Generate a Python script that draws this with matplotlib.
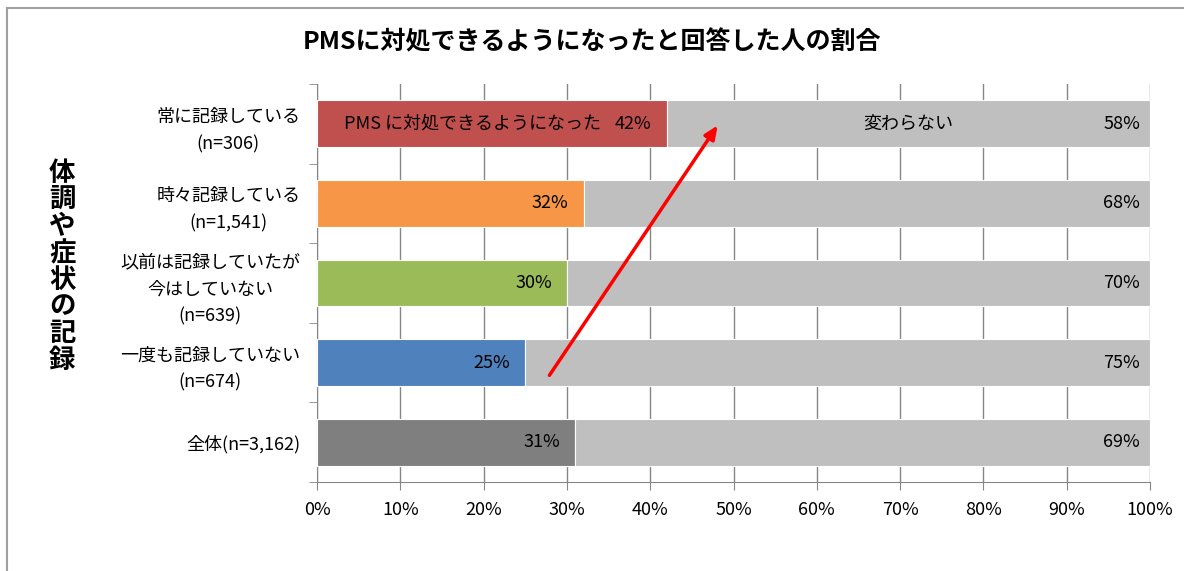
import matplotlib
matplotlib.use("Agg")
import matplotlib.pyplot as plt
from matplotlib.lines import Line2D

plt.rcParams['font.family'] = ['Noto Sans CJK JP', 'DejaVu Sans']

categories = ["常に記録している\n(n=306)",
              "時々記録している\n(n=1,541)",
              "以前は記録していたが\n今はしていない\n(n=639)",
              "一度も記録していない\n(n=674)",
              "全体(n=3,162)"]
coped = [42, 32, 30, 25, 31]
unchanged = [58, 68, 70, 75, 69]
colors = ["#C0504D", "#F79646", "#9BBB59", "#4F81BD", "#7F7F7F"]
rest_color = "#BFBFBF"
xticks = [0, 10, 20, 30, 40, 50, 60, 70, 80, 90, 100]

title = "PMSに対処できるようになったと回答した人の割合"
ylabel = "体調や症状の記録"
coped_name = "PMS に対処できるようになった"
unchanged_name = "変わらない"

# arrow (data coords: percent, category index)
arrow_start = (27.9, 3.16)
arrow_end = (48.1, 0.02)

fs = 13

fig = plt.figure(figsize=(11.84, 5.71), dpi=100)
ax = fig.add_axes([317 / 1184, 1 - 482 / 571, 833 / 1184, 398 / 571])

y = list(range(len(categories)))
ax.barh(y, coped, height=0.59, color=colors, edgecolor="white", linewidth=0.8, zorder=3)
ax.barh(y, unchanged, left=coped, height=0.59, color=rest_color,
        edgecolor="white", linewidth=0.8, zorder=3)

for i in y:
    ax.text(coped[i] - 1.8, i, f"{coped[i]}%", ha="right", va="center",
            fontsize=fs, zorder=4)
    ax.text(98.8, i, f"{unchanged[i]}%", ha="right", va="center",
            fontsize=fs, zorder=4)

ax.text(3.3, 0, coped_name, ha="left", va="center", fontsize=fs, zorder=4)
ax.text(coped[0] + unchanged[0] / 2, 0, unchanged_name, ha="center", va="center",
        fontsize=fs, zorder=4)

ax.annotate("", xy=arrow_end, xytext=arrow_start, zorder=5,
            arrowprops=dict(arrowstyle="-|>,head_length=0.8,head_width=0.35",
                            color="#FF0000", lw=2.5, shrinkA=0, shrinkB=0))

ax.set_xlim(0, 100)
ax.set_ylim(len(categories) - 0.5, -0.5)
ax.set_xticks(xticks)
ax.set_xticklabels([f"{t}%" for t in xticks], fontsize=fs)
ax.set_yticks(y)
ax.set_yticklabels(categories, fontsize=fs, linespacing=1.65)
for lab in ax.get_yticklabels():
    lab.set_multialignment("center")
ax.set_yticks([i - 0.5 for i in range(len(categories) + 1)], minor=True)
ax.tick_params(axis="y", which="major", length=0, pad=12)
ax.tick_params(axis="y", which="minor", length=6, color="#868686")
ax.tick_params(axis="x", length=6, color="#868686", pad=8)
ax.xaxis.grid(True, color="#868686", linewidth=1, zorder=0)
for s in ["top", "right"]:
    ax.spines[s].set_visible(False)
for s in ["left", "bottom"]:
    ax.spines[s].set_color("#868686")

fig.text(0.5, 1 - 42 / 571, title, ha="center", va="center", fontsize=18,
         fontweight="bold")
fig.text(62 / 1184, 1 - 267 / 571, "\n".join(ylabel), ha="center", va="center",
         fontsize=19, fontweight="bold", linespacing=0.98)

# chart frame
fig.add_artist(Line2D([7 / 1184, 7 / 1184], [0, 1 - 8 / 571], color="#A0A0A0", lw=1.5))
fig.add_artist(Line2D([7 / 1184, 1], [1 - 8 / 571, 1 - 8 / 571], color="#A0A0A0", lw=1.5))

fig.savefig("out.png", dpi=100)
